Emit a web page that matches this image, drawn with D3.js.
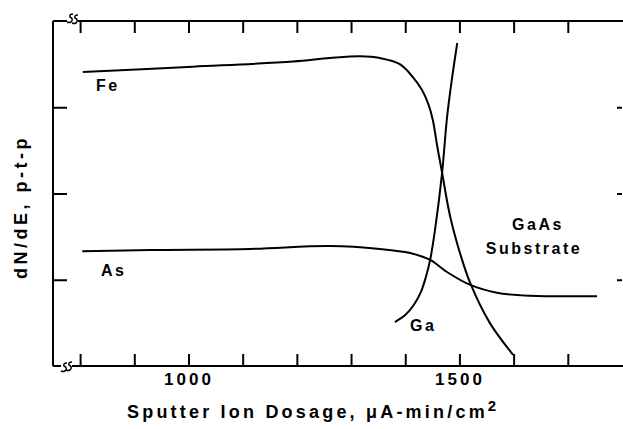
<!DOCTYPE html>
<html>
<head>
<meta charset="utf-8">
<script src="https://cdn.jsdelivr.net/npm/d3@7"></script>
<style>
  body { margin: 0; background: #fff; }
  text { font-family: "Liberation Sans", Arial, sans-serif; font-weight: bold; fill: #000; }
</style>
</head>
<body>
<svg id="chart"></svg>
<script>
// data (dosage in uA-min/cm2, signal in arbitrary p-t-p units)
const feDose = [805, 1008, 1193, 1261, 1317, 1353, 1390, 1414, 1431, 1443, 1451, 1459, 1468, 1483, 1501, 1520, 1556, 1599];
const feSignal = [3.41, 3.47, 3.53, 3.57, 3.59, 3.57, 3.50, 3.35, 3.20, 3.03, 2.85, 2.55, 2.24, 1.73, 1.31, 0.96, 0.50, 0.13];

const asDose = [804, 929, 1114, 1261, 1353, 1409, 1446, 1477, 1520, 1569, 1630, 1754];
const asSignal = [1.33, 1.345, 1.357, 1.39, 1.357, 1.31, 1.23, 1.09, 0.94, 0.85, 0.815, 0.81];

const gaDose = [1381, 1400, 1416, 1429, 1438, 1446, 1455, 1468, 1477, 1486, 1496];
const gaSignal = [0.51, 0.59, 0.71, 0.86, 1.03, 1.23, 1.58, 2.24, 2.875, 3.32, 3.745];

const xTicks = [800, 900, 1000, 1100, 1200, 1300, 1400, 1500, 1600, 1700];
const xLabels = [1000, 1500];
const yTicks = [1, 2, 3];

const width = 623;
const height = 429;
const plot = {left: 53, right: 622, top: 21, bottom: 366};

const svg = d3.select('#chart')
    .attr('width', width)
    .attr('height', height);

const x = d3.scaleLinear().domain([750, 1800]).range([plot.left, plot.right]);
const y = d3.scaleLinear().domain([0, 4]).range([plot.bottom, plot.top]);

// axes (ticks only, frame lines drawn by hand to get the breaks)
svg.append('g')
    .attr('transform', 'translate(0,' + plot.top + ')')
    .call(d3.axisBottom(x).tickValues(xTicks).tickSizeInner(12).tickSizeOuter(0).tickFormat(''))
    .call(g => g.select('.domain').remove());

svg.append('g')
    .attr('transform', 'translate(0,' + plot.bottom + ')')
    .call(d3.axisBottom(x).tickValues(xTicks).tickSizeInner(-12).tickSizeOuter(0).tickPadding(7)
        .tickFormat(d => xLabels.includes(d) ? d : ''))
    .call(g => g.select('.domain').remove())
    .call(g => g.selectAll('text')
        .style('font-size', '17px')
        .style('font-family', '"Liberation Sans", Arial, sans-serif')
        .style('font-weight', 'bold')
        .style('letter-spacing', '3px'));

svg.append('g')
    .attr('transform', 'translate(' + plot.left + ',0)')
    .call(d3.axisRight(y).tickValues(yTicks).tickSizeInner(14).tickSizeOuter(0).tickFormat(''))
    .call(g => g.select('.domain').remove());

svg.append('g')
    .attr('transform', 'translate(' + plot.right + ',0)')
    .call(d3.axisLeft(y).tickValues(yTicks).tickSizeInner(5).tickSizeOuter(0).tickFormat(''))
    .call(g => g.select('.domain').remove());

svg.selectAll('.tick line').attr('stroke', '#000').attr('stroke-width', 2);

// frame with axis breaks
const frame = svg.append('g').attr('fill', 'none').attr('stroke', '#000').attr('stroke-width', 2);
frame.append('path').attr('d', `M${plot.left},${plot.top}V${plot.bottom}`);
frame.append('path').attr('d', `M${plot.left},${plot.top}H67 M78,${plot.top}H${width}`);
frame.append('path').attr('d', `M${plot.left},${plot.bottom}H61 M72,${plot.bottom}H${width}`);
// little "s" squiggles
frame.selectAll('path.brk')
    .data([[70, plot.top - 2], [75, plot.top - 1], [64, plot.bottom + 2], [69, plot.bottom + 1]])
    .enter().append('path')
    .attr('stroke-width', 1.5)
    .attr('d', d => `M${d[0] + 3},${d[1] - 5} q-4,0 -3,3 q4,2 1,5 q-2,1 -4,0`);

// curves
const line = d3.line()
    .x(d => x(d[0]))
    .y(d => y(d[1]))
    .curve(d3.curveCatmullRom.alpha(0.5));

const series = [
  d3.zip(feDose, feSignal),
  d3.zip(asDose, asSignal),
  d3.zip(gaDose, gaSignal)
];

svg.selectAll('path.curve')
    .data(series)
    .enter().append('path')
    .attr('class', 'curve')
    .attr('fill', 'none')
    .attr('stroke', '#000')
    .attr('stroke-width', 2)
    .attr('d', line);

// curve labels
const labels = svg.append('g').style('font-size', '16px').style('letter-spacing', '2.5px');
labels.append('text').attr('x', 96).attr('y', 91).text('Fe');
labels.append('text').attr('x', 101).attr('y', 276).text('As');
labels.append('text').attr('x', 410).attr('y', 331).text('Ga');
labels.append('text').attr('x', 538).attr('y', 230).attr('text-anchor', 'middle').text('GaAs');
labels.append('text').attr('x', 534).attr('y', 254).attr('text-anchor', 'middle').text('Substrate');

// axis titles
const xt = svg.append('text')
    .attr('x', 127)
    .attr('y', 418)
    .style('font-size', '18px')
    .style('letter-spacing', '3.2px');
xt.append('tspan').text('Sputter Ion Dosage, \u03bcA-min/cm');
xt.append('tspan').attr('dy', -7).style('font-size', '15px').text('2');

svg.append('text')
    .attr('transform', 'translate(27,207) rotate(-90)')
    .attr('text-anchor', 'middle')
    .style('font-size', '18px')
    .style('letter-spacing', '3.5px')
    .text('dN/dE, p-t-p');
</script>
</body>
</html>
